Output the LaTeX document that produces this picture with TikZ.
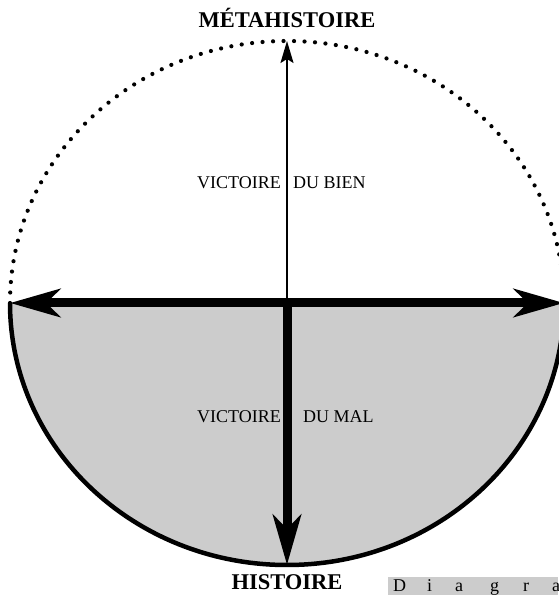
\documentclass[tikz,border=0pt]{standalone}
\usepackage{fontspec}
\setmainfont{Liberation Serif}
\usetikzlibrary{arrows.meta}
\definecolor{lowgray}{HTML}{CCCCCC}
\tikzset{
  bigtip/.style={-{Stealth[length=50pt,width=28pt,inset=14pt]}},
  bigboth/.style={{Stealth[length=50pt,width=28pt,inset=14pt]}-{Stealth[length=50pt,width=28pt,inset=14pt]}},
  thintip/.style={-{Stealth[length=22pt,width=13pt,inset=4pt]}},
  dotline/.style={line width=4.2pt,line cap=round,dash pattern=on 0pt off 10.5pt},
  title/.style={font=\fontsize{22.5}{26}\selectfont\bfseries, inner sep=0pt},
  lab/.style={font=\fontsize{18}{21}\selectfont, inner sep=0pt},
  cut/.style={font=\fontsize{18}{20}\selectfont, inner sep=0pt, anchor=base west},
}
\begin{document}
\begin{tikzpicture}[x=1pt,y=1pt]
\useasboundingbox (0,0) rectangle (558,595);
\coordinate (C) at (287,292);
\coordinate (L) at (10,292);
\coordinate (R) at (564,292);
\coordinate (T) at (287,554);
\coordinate (B) at (287,30);
% lower half
\fill[lowgray] (L) arc[start angle=180,end angle=360,x radius=277,y radius=262] -- cycle;
\draw[line width=4.5pt] (L) arc[start angle=180,end angle=360,x radius=277,y radius=262];
% upper dotted half
\draw[dotline] (L) arc[start angle=180,end angle=0,x radius=277,y radius=262];
% arrows
\draw[line width=1.8pt, thintip] (C) -- (T);
\draw[line width=9pt, bigtip] (C) -- (B);
\draw[line width=9pt, bigboth] (L) -- (R);
% labels
\node[title] (meta) at (287,577) {MÉTAHISTOIRE};
\node[title] (hist) at (287,13) {HISTOIRE};
\node[lab, anchor=east] (v1) at (281,412) {VICTOIRE};
\node[lab, anchor=west] (bien) at (293,412) {DU BIEN};
\node[lab, anchor=east] (v2) at (281,178) {VICTOIRE};
\node[lab, anchor=west] (mal) at (303,178) {DU MAL};
% cut caption box
\fill[lowgray] (388,0) rectangle (558,18);
\node[cut] (d1) at (393,3) {D};
\node[cut] (d2) at (427,3) {i};
\node[cut] (d3) at (455,3) {a};
\node[cut] (d4) at (490,3) {g};
\node[cut] (d5) at (523,3) {r};
\node[cut] (d6) at (552,3) {a};
\end{tikzpicture}
\end{document}
